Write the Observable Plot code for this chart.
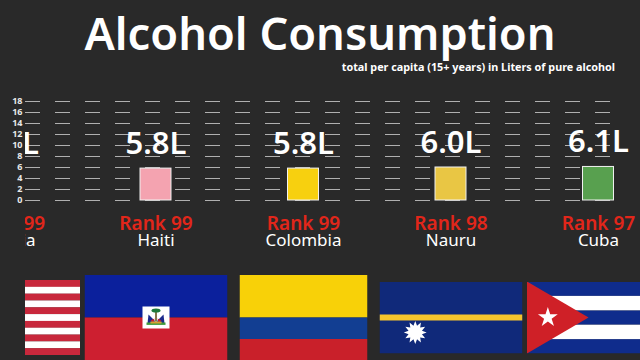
<!DOCTYPE html>
<html>
<head>
<meta charset="utf-8">
<script src="https://cdn.jsdelivr.net/npm/d3@7"></script>
<script src="https://cdn.jsdelivr.net/npm/@observablehq/plot@0.6"></script>
<style>
  html, body { margin: 0; padding: 0; background: #292929; width: 640px; height: 360px; overflow: hidden; }
  #wrap { position: relative; width: 640px; height: 360px; font-family: "Noto Sans", sans-serif; }
  #wrap svg { display: block; }
  h1 { position: absolute; left: 0; width: 640px; top: 2px; margin: 0; text-align: center; color: #fff;
       font-size: 45.2px; font-weight: 600; line-height: 62px; white-space: nowrap; }
  p { position: absolute; right: 25px; top: 59px; margin: 0; color: #fff; font-size: 10.8px; font-weight: 700; line-height: 15px; white-space: nowrap; }
</style>
</head>
<body>
<div id="wrap">
  <h1>Alcohol Consumption</h1>
  <p>total per capita (15+ years) in Liters of pure alcohol</p>
</div>
<script>
const countries = ["Liberia", "Haiti", "Colombia", "Nauru", "Cuba"];
const liters = [5.8, 5.8, 5.8, 6.0, 6.1];
const ranks = [99, 99, 99, 98, 97];
const barColors = ["#c8283c", "#f4a3b0", "#f7d00f", "#e9c644", "#58a04f"];
const yTicks = [0, 2, 4, 6, 8, 10, 12, 14, 16, 18];
const flagWidths = [143, 143, 128, 143, 143];
const flagHeights = [75, 86, 86, 72, 72];

const uri = (w, h, body) => "data:image/svg+xml," + encodeURIComponent(
  `<svg xmlns="http://www.w3.org/2000/svg" viewBox="0 0 ${w} ${h}" preserveAspectRatio="none">${body}</svg>`);

const burst = (cx, cy, r1, r2, n) => {
  const p = [];
  for (let i = 0; i < n * 2; i++) {
    const a = -Math.PI / 2 + i * Math.PI / n, r = i % 2 ? r2 : r1;
    p.push((cx + r * Math.cos(a)).toFixed(2) + "," + (cy + r * Math.sin(a)).toFixed(2));
  }
  return p.join(" ");
};

const liberiaStripes = d3.range(11).map(i =>
  `<rect x="0" y="${i}" width="19" height="1.02" fill="${i % 2 ? "#fff" : "#c8283c"}"/>`).join("");
const flagLiberia = uri(19, 11, liberiaStripes +
  `<rect width="5" height="5" fill="#002868"/><polygon points="${burst(2.5, 2.5, 1.8, 0.7, 5)}" fill="#fff"/>`);

const flagHaiti = uri(143, 86,
  `<rect width="143" height="43" fill="#0b209c"/><rect y="43" width="143" height="43" fill="#cd1f30"/>
   <rect x="58" y="32" width="27" height="22" fill="#fff"/>
   <rect x="70.6" y="36" width="1.8" height="11" fill="#7a6a3a"/>
   <ellipse cx="71.5" cy="36" rx="4.5" ry="2" fill="#1f7a3a"/>
   <polygon points="71,47 63,49 64,40" fill="#1c2a8c"/><polygon points="72,47 80,49 79,40" fill="#1c2a8c"/>
   <polygon points="66,46 70,44 69,48" fill="#c8202c"/><polygon points="77,46 73,44 74,48" fill="#c8202c"/>
   <rect x="62" y="48" width="19" height="2.4" fill="#3f9a3a"/><rect x="66" y="47" width="11" height="2" fill="#d8a030"/>`);

const flagColombia = uri(128, 86,
  `<rect width="128" height="43" fill="#f8d108"/><rect y="43" width="128" height="21.5" fill="#123e92"/>
   <rect y="64.5" width="128" height="21.5" fill="#c9202a"/>`);

const flagNauru = uri(144, 72,
  `<rect width="144" height="72" fill="#10297a"/><rect y="33" width="144" height="6" fill="#f5c42e"/>
   <polygon points="${burst(36, 51, 11.5, 7, 12)}" fill="#fff"/>`);

const cubaStripes = [0, 2, 4].map(i => `<rect y="${i * 14.4}" width="144" height="14.4" fill="#0f2c8c"/>`).join("") +
  [1, 3].map(i => `<rect y="${i * 14.4}" width="144" height="14.4" fill="#fff"/>`).join("");
const flagCuba = uri(144, 72, cubaStripes +
  `<polygon points="0,0 62,36 0,72" fill="#cf2027"/><polygon points="${burst(21, 36, 10.5, 4, 5)}" fill="#fff"/>`);

const flagSources = [flagLiberia, flagHaiti, flagColombia, flagNauru, flagCuba];

const rows = countries.map((country, i) => ({
  country, liters: liters[i], rank: ranks[i], color: barColors[i],
  src: flagSources[i], fw: flagWidths[i], fh: flagHeights[i]
}));

// 20 dashes from the frame's left edge, then nothing up to the right edge
const gridDash = d3.range(19).map(() => "15 15").join(" ") + " 15 100";

const chart = Plot.plot({
  width: 640,
  height: 360,
  marginLeft: 25,
  marginRight: 0,
  marginTop: 0,
  marginBottom: 0,
  style: { background: "transparent", fontFamily: "'Noto Sans', sans-serif" },
  x: { type: "band", domain: countries, range: [-65.75, 671.75], paddingInner: 0.79, paddingOuter: 0.395, align: 0.5, round: false, axis: null },
  y: { domain: [0, 18], range: [200, 101], axis: null },
  marks: [
    Plot.gridY(yTicks, { stroke: "#b0b0b0", strokeOpacity: 1, strokeWidth: 1, strokeDasharray: gridDash }),
    Plot.axisY(yTicks, { anchor: "left", label: null, tickSize: 0, tickPadding: 3, fontSize: 9, fontWeight: 700, color: "#e8e8e8" }),
    Plot.barY(rows, { x: "country", y: "liters", fill: "color", stroke: "#f2f2f2", strokeWidth: 1, clip: "frame" }),
    Plot.text(rows, { x: "country", y: "liters", text: d => d.liters.toFixed(1) + "L", dy: -15, lineAnchor: "bottom",
      fill: "#fff", fontSize: 31, fontWeight: 600, clip: "frame" }),
    Plot.text(rows, { x: "country", y: 0, text: d => "Rank " + d.rank, dy: 29, lineAnchor: "bottom",
      fill: "#e2261a", fontSize: 19, fontWeight: 600, clip: "frame" }),
    Plot.text(rows, { x: "country", y: 0, text: "country", dy: 45, lineAnchor: "bottom",
      fill: "#fff", fontSize: 17, clip: "frame" }),
    Plot.image(rows, { x: "country", y: 0, dy: 117, src: "src", width: "fw", height: "fh",
      preserveAspectRatio: "none", clip: "frame" })
  ]
});
document.getElementById("wrap").prepend(chart);
</script>
</body>
</html>
